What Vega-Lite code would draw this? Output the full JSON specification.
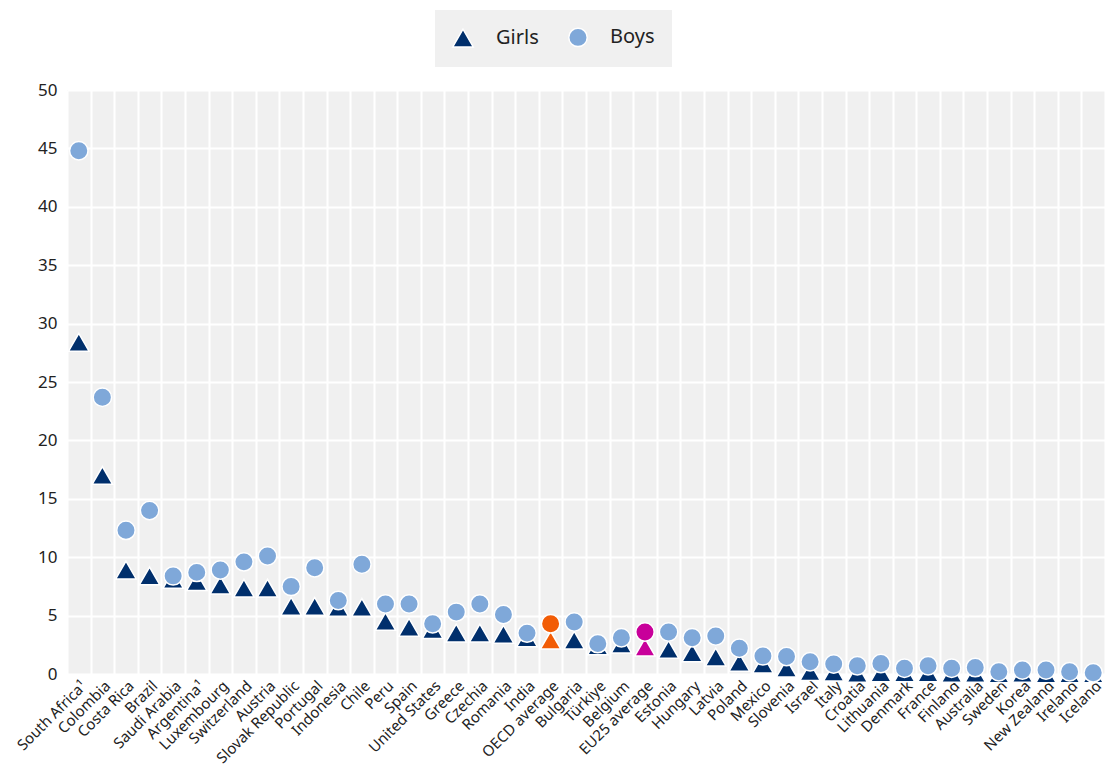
{
  "$schema": "https://vega.github.io/schema/vega-lite/v6.json",
  "width": 1038,
  "height": 584,
  "autosize": {"type": "none"},
  "padding": {"left": 67, "top": 90, "right": 0, "bottom": 93},
  "background": "white",
  "config": {
    "font": "Noto Sans",
    "view": {"fill": "#f0f0f0", "stroke": null}
  },
  "data": {
    "values": [
      {"country": "South Africa¹", "sex": "Girls", "value": 28.4},
      {"country": "Colombia", "sex": "Girls", "value": 17.0},
      {"country": "Costa Rica", "sex": "Girls", "value": 8.9},
      {"country": "Brazil", "sex": "Girls", "value": 8.4},
      {"country": "Saudi Arabia", "sex": "Girls", "value": 8.1},
      {"country": "Argentina¹", "sex": "Girls", "value": 7.9},
      {"country": "Luxembourg", "sex": "Girls", "value": 7.6},
      {"country": "Switzerland", "sex": "Girls", "value": 7.35},
      {"country": "Austria", "sex": "Girls", "value": 7.35},
      {"country": "Slovak Republic", "sex": "Girls", "value": 5.8},
      {"country": "Portugal", "sex": "Girls", "value": 5.8},
      {"country": "Indonesia", "sex": "Girls", "value": 5.7},
      {"country": "Chile", "sex": "Girls", "value": 5.7},
      {"country": "Peru", "sex": "Girls", "value": 4.5},
      {"country": "Spain", "sex": "Girls", "value": 4.0},
      {"country": "United States", "sex": "Girls", "value": 3.8},
      {"country": "Greece", "sex": "Girls", "value": 3.5},
      {"country": "Czechia", "sex": "Girls", "value": 3.5},
      {"country": "Romania", "sex": "Girls", "value": 3.4},
      {"country": "India", "sex": "Girls", "value": 3.1},
      {"country": "OECD average", "sex": "Girls", "value": 2.9},
      {"country": "Bulgaria", "sex": "Girls", "value": 2.9},
      {"country": "Türkiye", "sex": "Girls", "value": 2.4},
      {"country": "Belgium", "sex": "Girls", "value": 2.55},
      {"country": "EU25 average", "sex": "Girls", "value": 2.3},
      {"country": "Estonia", "sex": "Girls", "value": 2.1},
      {"country": "Hungary", "sex": "Girls", "value": 1.8},
      {"country": "Latvia", "sex": "Girls", "value": 1.45},
      {"country": "Poland", "sex": "Girls", "value": 1.0},
      {"country": "Mexico", "sex": "Girls", "value": 0.85},
      {"country": "Slovenia", "sex": "Girls", "value": 0.5},
      {"country": "Israel", "sex": "Girls", "value": 0.2},
      {"country": "Italy", "sex": "Girls", "value": 0.15},
      {"country": "Croatia", "sex": "Girls", "value": 0.05},
      {"country": "Lithuania", "sex": "Girls", "value": 0.1},
      {"country": "Denmark", "sex": "Girls", "value": 0.1},
      {"country": "France", "sex": "Girls", "value": 0.1},
      {"country": "Finland", "sex": "Girls", "value": 0.05},
      {"country": "Australia", "sex": "Girls", "value": 0.05},
      {"country": "Sweden", "sex": "Girls", "value": 0.0},
      {"country": "Korea", "sex": "Girls", "value": 0.05},
      {"country": "New Zealand", "sex": "Girls", "value": 0.0},
      {"country": "Ireland", "sex": "Girls", "value": 0.0},
      {"country": "Iceland", "sex": "Girls", "value": 0.0},
      {"country": "South Africa¹", "sex": "Boys", "value": 44.8},
      {"country": "Colombia", "sex": "Boys", "value": 23.7},
      {"country": "Costa Rica", "sex": "Boys", "value": 12.3},
      {"country": "Brazil", "sex": "Boys", "value": 14.0},
      {"country": "Saudi Arabia", "sex": "Boys", "value": 8.4},
      {"country": "Argentina¹", "sex": "Boys", "value": 8.7},
      {"country": "Luxembourg", "sex": "Boys", "value": 8.9},
      {"country": "Switzerland", "sex": "Boys", "value": 9.6},
      {"country": "Austria", "sex": "Boys", "value": 10.1},
      {"country": "Slovak Republic", "sex": "Boys", "value": 7.5},
      {"country": "Portugal", "sex": "Boys", "value": 9.1},
      {"country": "Indonesia", "sex": "Boys", "value": 6.3},
      {"country": "Chile", "sex": "Boys", "value": 9.4},
      {"country": "Peru", "sex": "Boys", "value": 6.0},
      {"country": "Spain", "sex": "Boys", "value": 6.0},
      {"country": "United States", "sex": "Boys", "value": 4.3},
      {"country": "Greece", "sex": "Boys", "value": 5.3},
      {"country": "Czechia", "sex": "Boys", "value": 6.0},
      {"country": "Romania", "sex": "Boys", "value": 5.1},
      {"country": "India", "sex": "Boys", "value": 3.5},
      {"country": "OECD average", "sex": "Boys", "value": 4.3},
      {"country": "Bulgaria", "sex": "Boys", "value": 4.45},
      {"country": "Türkiye", "sex": "Boys", "value": 2.6},
      {"country": "Belgium", "sex": "Boys", "value": 3.1},
      {"country": "EU25 average", "sex": "Boys", "value": 3.6},
      {"country": "Estonia", "sex": "Boys", "value": 3.6},
      {"country": "Hungary", "sex": "Boys", "value": 3.1},
      {"country": "Latvia", "sex": "Boys", "value": 3.25},
      {"country": "Poland", "sex": "Boys", "value": 2.2},
      {"country": "Mexico", "sex": "Boys", "value": 1.55},
      {"country": "Slovenia", "sex": "Boys", "value": 1.5},
      {"country": "Israel", "sex": "Boys", "value": 1.05},
      {"country": "Italy", "sex": "Boys", "value": 0.85},
      {"country": "Croatia", "sex": "Boys", "value": 0.7},
      {"country": "Lithuania", "sex": "Boys", "value": 0.9},
      {"country": "Denmark", "sex": "Boys", "value": 0.5},
      {"country": "France", "sex": "Boys", "value": 0.7},
      {"country": "Finland", "sex": "Boys", "value": 0.5},
      {"country": "Australia", "sex": "Boys", "value": 0.55},
      {"country": "Sweden", "sex": "Boys", "value": 0.2},
      {"country": "Korea", "sex": "Boys", "value": 0.35},
      {"country": "New Zealand", "sex": "Boys", "value": 0.35},
      {"country": "Ireland", "sex": "Boys", "value": 0.2},
      {"country": "Iceland", "sex": "Boys", "value": 0.1}
    ]
  },
  "mark": {"type": "point", "filled": true, "opacity": 1, "stroke": "white", "strokeWidth": 1.5},
  "encoding": {
    "x": {
      "field": "country",
      "type": "nominal",
      "sort": null,
      "scale": {"type": "band", "paddingInner": 0, "paddingOuter": 0},
      "axis": {
        "title": null,
        "tickBand": "extent",
        "grid": true,
        "gridColor": "white",
        "gridWidth": 2,
        "gridOpacity": 1,
        "ticks": false,
        "domain": false,
        "labelAngle": -45,
        "labelAlign": "right",
        "labelBaseline": "top",
        "labelFontSize": 15,
        "labelColor": "#222",
        "labelPadding": 4,
        "labelOverlap": false
      }
    },
    "y": {
      "field": "value",
      "type": "quantitative",
      "scale": {"domain": [0, 50], "nice": false},
      "axis": {
        "title": null,
        "values": [0, 5, 10, 15, 20, 25, 30, 35, 40, 45, 50],
        "grid": true,
        "gridColor": "white",
        "gridWidth": 2,
        "gridOpacity": 1,
        "ticks": false,
        "domain": false,
        "labelFontSize": 17,
        "labelColor": "#222",
        "labelPadding": 10
      }
    },
    "shape": {
      "field": "sex",
      "type": "nominal",
      "scale": {"domain": ["Girls", "Boys"], "range": ["triangle-up", "circle"]},
      "legend": null
    },
    "size": {
      "field": "sex",
      "type": "nominal",
      "scale": {"domain": ["Girls", "Boys"], "range": [420, 340]},
      "legend": null
    },
    "color": {
      "field": "sex",
      "type": "nominal",
      "condition": [
        {"test": "datum.country === 'OECD average'", "value": "#F25C05"},
        {"test": "datum.country === 'EU25 average'", "value": "#C8009A"}
      ],
      "scale": {"domain": ["Girls", "Boys"], "range": ["#002F6C", "#7FA8D9"]},
      "legend": {
        "title": null,
        "orient": "none",
        "legendX": 368,
        "legendY": -80,
        "direction": "horizontal",
        "fillColor": "#f0f0f0",
        "padding": 17,
        "labelFontSize": 20,
        "labelColor": "#222",
        "symbolSize": 380,
        "symbolStrokeColor": "white",
        "symbolStrokeWidth": 1.5,
        "symbolOpacity": 1,
        "labelOffset": 22,
        "columnPadding": 26
      }
    }
  }
}
